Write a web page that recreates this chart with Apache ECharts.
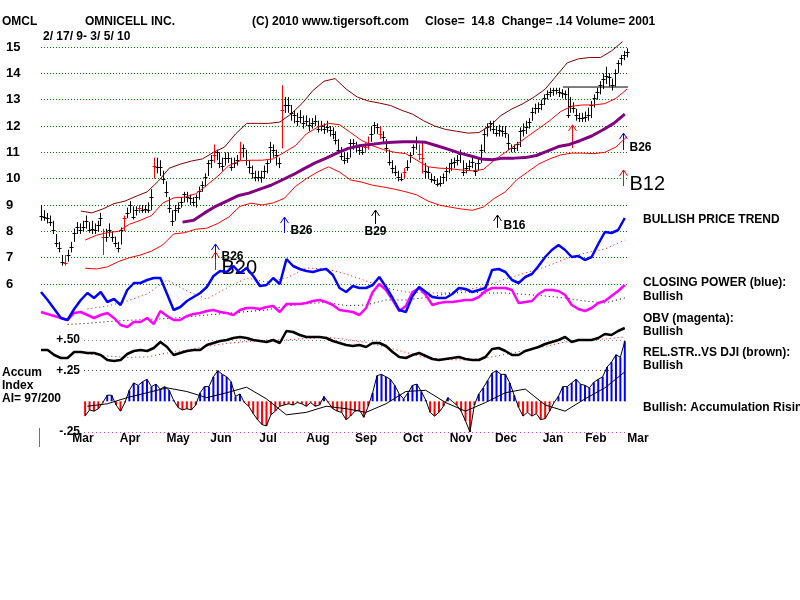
<!DOCTYPE html>
<html>
<head>
<meta charset="utf-8">
<script src="https://cdn.jsdelivr.net/npm/echarts@6/dist/echarts.min.js"></script>
<style>
html, body { margin: 0; background: #fff; }
#main { width: 800px; height: 600px; }
</style>
</head>
<body>
<div id="main"></div>
<script>
// x axis is in trading days, day 0 = 2/17/09, day 265 = 3/5/10
var lastDay = 265;

// daily price bars (sampled), spread evenly over the period
var closes = [8.6, 8.55, 8.5, 8.35, 8.05, 7.55, 7.37, 6.85, 6.8, 7.1,
  7.4, 7.95, 8.15, 8.05, 8.15, 8.4, 8.05, 8.1, 8.05, 8.25,
  8.5, 7.8, 7.8, 8.05, 7.8, 7.55, 7.37, 8.05, 8.5, 8.7,
  9.0, 8.55, 8.8, 8.9, 8.8, 8.85, 8.8, 9.3, 10.5, 10.45,
  10.45, 10.0, 9.5, 8.9, 8.4, 8.8, 8.9, 9.1, 9.4, 9.3,
  9.25, 9.1, 9.3, 9.55, 9.75, 10.05, 10.6, 10.7, 10.9, 11.0,
  10.6, 10.5, 10.8, 10.8, 10.45, 10.6, 10.7, 11.0, 11.15, 10.7,
  10.45, 10.2, 10.05, 10.05, 10.05, 10.3, 10.6, 11.2, 11.1, 10.9,
  10.6, 12.6, 12.8, 12.8, 12.5, 12.4, 12.2, 12.35, 12.1, 12.2,
  12.05, 12.1, 12.2, 11.9, 12.0, 11.9, 11.95, 11.85, 11.7, 11.45,
  11.1, 10.85, 10.7, 10.8, 11.35, 11.35, 11.2, 11.1, 11.0, 11.2,
  11.3, 11.7, 12.05, 11.95, 11.7, 11.6, 11.15, 10.65, 10.4, 10.25,
  10.05, 10.0, 10.25, 10.45, 10.9, 11.2, 11.4, 10.95, 10.8, 10.3,
  10.25, 10.0, 9.95, 9.8, 9.85, 10.05, 10.3, 10.4, 10.6, 10.65,
  10.7, 10.95, 10.25, 10.4, 10.5, 10.65, 10.3, 10.6, 11.1, 11.7,
  11.95, 12.1, 11.9, 11.75, 11.85, 11.8, 11.75, 11.35, 11.15, 11.15,
  11.3, 11.8, 11.85, 11.95, 12.15, 12.55, 12.7, 12.7, 12.85, 13.05,
  13.2, 13.3, 13.35, 13.35, 13.3, 13.25, 13.2, 12.4, 12.75, 12.7,
  12.4, 12.3, 12.3, 12.35, 12.4, 12.8, 13.05, 13.3, 13.55, 13.8,
  13.9, 13.85, 13.55, 14.0, 14.4, 14.6, 14.7, 14.8];
var highs = [9.0, 8.8, 8.7, 8.6, 8.4, 7.9, 7.6, 7.1, 7.1, 7.3,
  7.6, 8.1, 8.35, 8.3, 8.4, 8.6, 8.35, 8.4, 8.3, 8.4,
  8.7, 8.1, 8.1, 8.3, 8.0, 7.8, 7.6, 8.15, 8.6, 8.9,
  9.15, 8.95, 8.95, 9.0, 9.0, 9.0, 9.1, 9.6, 10.8, 10.8,
  10.7, 10.3, 9.9, 9.3, 8.8, 9.0, 9.1, 9.3, 9.5, 9.5,
  9.4, 9.3, 9.4, 9.7, 9.9, 10.2, 10.7, 10.9, 11.3, 11.1,
  11.0, 10.8, 11.0, 11.0, 10.8, 10.8, 10.9, 11.4, 11.3, 11.1,
  10.7, 10.5, 10.3, 10.3, 10.3, 10.5, 10.7, 11.4, 11.3, 11.1,
  10.8, 13.55, 13.1, 13.1, 12.8, 12.6, 12.5, 12.6, 12.4, 12.4,
  12.3, 12.3, 12.4, 12.2, 12.2, 12.1, 12.2, 12.0, 11.95, 11.8,
  11.5, 11.2, 11.0, 11.0, 11.5, 11.5, 11.4, 11.3, 11.2, 11.35,
  11.6, 12.0, 12.15, 12.1, 12.0, 11.8, 11.5, 11.1, 10.7, 10.5,
  10.3, 10.2, 10.4, 10.7, 11.0, 11.3, 11.6, 11.3, 11.4, 10.6,
  10.45, 10.2, 10.1, 10.0, 10.1, 10.2, 10.45, 10.6, 10.75, 10.8,
  10.9, 11.1, 10.7, 10.6, 10.7, 10.8, 10.6, 10.8, 11.3, 11.9,
  12.1, 12.2, 12.2, 12.0, 12.05, 12.0, 12.0, 11.7, 11.3, 11.3,
  11.4, 11.95, 12.1, 12.2, 12.3, 12.7, 12.85, 12.9, 13.0, 13.2,
  13.35, 13.45, 13.45, 13.45, 13.45, 13.4, 13.35, 13.45, 13.1, 12.9,
  12.65, 12.5, 12.5, 12.55, 12.7, 12.95, 13.2, 13.45, 13.7, 14.0,
  14.25, 14.0, 13.8, 14.15, 14.5, 14.7, 14.85, 14.95];
var lows = [8.4, 8.4, 8.3, 8.2, 7.9, 7.4, 7.2, 6.7, 6.7, 6.85,
  7.2, 7.6, 7.9, 7.9, 8.0, 8.1, 7.95, 7.9, 7.9, 8.0,
  8.2, 7.1, 7.6, 7.8, 7.6, 7.4, 7.2, 7.5, 8.0, 8.5,
  8.7, 8.45, 8.6, 8.7, 8.7, 8.7, 8.7, 8.8, 10.0, 10.2,
  10.1, 9.8, 9.3, 8.7, 8.2, 8.4, 8.7, 8.9, 9.1, 9.1,
  9.0, 8.95, 8.9, 9.2, 9.5, 9.7, 10.1, 10.4, 10.6, 10.7,
  10.4, 10.3, 10.5, 10.6, 10.3, 10.4, 10.5, 10.7, 10.8, 10.5,
  10.2, 10.0, 9.9, 9.9, 9.85, 10.0, 10.2, 10.6, 10.8, 10.5,
  10.4, 11.15, 12.5, 12.5, 12.2, 12.1, 12.0, 12.1, 11.9, 12.0,
  11.8, 11.9, 12.0, 11.75, 11.8, 11.7, 11.75, 11.6, 11.5, 11.3,
  10.95, 10.7, 10.55, 10.6, 10.8, 11.1, 11.0, 10.9, 10.9, 11.0,
  11.1, 11.4, 11.7, 11.7, 11.5, 11.4, 11.0, 10.5, 10.2, 10.1,
  9.9, 9.9, 10.0, 10.3, 10.6, 10.9, 11.1, 10.7, 10.2, 10.0,
  10.0, 9.85, 9.8, 9.7, 9.7, 9.8, 9.9, 10.2, 10.3, 10.4,
  10.5, 10.6, 10.1, 10.2, 10.3, 10.4, 10.1, 10.3, 10.6, 11.0,
  11.6, 11.8, 11.7, 11.6, 11.6, 11.6, 11.55, 11.1, 11.0, 11.0,
  11.05, 11.2, 11.6, 11.7, 11.9, 12.2, 12.45, 12.5, 12.6, 12.8,
  13.0, 13.1, 13.15, 13.2, 13.1, 13.05, 13.0, 12.3, 12.5, 12.5,
  12.2, 12.15, 12.15, 12.15, 12.2, 12.3, 12.7, 13.0, 13.2, 13.4,
  13.6, 13.5, 13.35, 13.5, 14.0, 14.3, 14.5, 14.6];
var redBars = [8, 21, 28, 33, 38, 58, 67, 81, 109, 110, 114, 122, 127, 128];

// bands and 50-day average, one value every bandStep days
var bandStep = 5;
var upperStart = 18;
var upperBand = [8.77, 8.7, 8.85, 9.05, 9.15, 9.33, 9.5, 9.9, 10.4, 10.55,
  10.67, 10.75, 11.0, 11.2, 11.7, 12.1, 12.1, 12.1, 12.15, 12.45,
  12.85, 13.35, 13.7, 13.8, 13.4, 13.1, 12.95, 12.87, 12.78, 12.6,
  12.45, 12.2, 12.0, 11.87, 11.8, 11.73, 11.75, 12.0, 12.4, 12.65,
  12.85, 13.1, 13.4, 13.9, 14.4, 14.55, 14.6, 14.6, 14.85, 15.2];
var midStart = 20;
var midBand = [7.67, 7.85, 7.95, 8.0, 8.27, 8.42, 8.6, 9.07, 9.27, 9.3,
  9.43, 9.75, 10.1, 10.5, 10.68, 10.7, 10.7, 10.75, 11.0, 11.25,
  11.7, 11.95, 12.1, 12.05, 11.75, 11.45, 11.25, 11.1, 11.0, 10.95,
  10.7, 10.45, 10.4, 10.38, 10.33, 10.3, 10.35, 10.7, 11.0, 11.3,
  11.6, 11.9, 12.2, 12.55, 12.75, 12.8, 12.8, 12.85, 13.05, 13.4];
var lowStart = 20;
var lowerBand = [6.6, 6.57, 6.65, 6.85, 7.0, 7.1, 7.25, 7.48, 7.9, 7.95,
  8.08, 8.12, 8.3, 8.55, 8.95, 9.07, 9.0, 9.08, 9.25, 9.7,
  10.0, 10.25, 10.45, 10.25, 9.95, 9.87, 9.75, 9.68, 9.6, 9.5,
  9.38, 9.15, 9.0, 8.92, 8.85, 8.8, 8.92, 9.25, 9.5, 9.95,
  10.25, 10.55, 10.75, 10.9, 10.97, 10.97, 10.95, 11.0, 11.2, 11.6];
var ma50Start = 64;
var ma50 = [8.35, 8.42, 8.7, 8.95, 9.15, 9.35, 9.45, 9.6, 9.75, 9.95,
  10.15, 10.38, 10.6, 10.78, 10.98, 11.15, 11.25, 11.3, 11.35, 11.38,
  11.4, 11.4, 11.38, 11.25, 11.12, 10.98, 10.87, 10.75, 10.72, 10.78,
  10.78, 10.8, 10.88, 11.05, 11.22, 11.3, 11.45, 11.62, 11.85, 12.1, 12.45];

// resistance line
var resistLevel = 13.48;
var resistFrom = 236;
var resistTo = 278;

// buy signals: day, arrow tip price, arrow tail price, label
var sigDays = [78.7, 78.7, 109.9, 151.1, 206.2, 240.2, 263.2, 263.2];
var sigTips = [7.21, 7.52, 8.54, 8.81, 8.62, 12.04, 11.73, 10.33];
var sigTails = [6.53, 6.95, 7.94, 8.28, 8.13, 11.16, 11.09, 9.72];
var sigNames = ['B20', 'B26', 'B26', 'B29', 'B16', '', 'B26', 'B12'];

// indicators, one value every 3 days from day 0 (levels 0-100 of the panel)
var indStep = 3;
var closingPower = [54, 50, 45.5, 41, 40, 45.5, 50, 53.5, 51, 54,
  49, 50.5, 47.5, 55, 58.5, 58.5, 60, 61, 61, 53,
  45, 46.5, 49.5, 51.5, 53.5, 56.5, 62, 64.5, 64, 67,
  63.5, 66, 62, 57, 57.5, 61, 58, 70.5, 67, 65.5,
  64.5, 64, 65, 65.5, 62.5, 56, 54, 57, 56, 56,
  57.5, 61.5, 56.5, 51, 45, 44, 52, 56.5, 54, 51.5,
  51, 51, 53, 56, 55.5, 54, 55, 56, 65, 65.5,
  64, 60, 58.5, 61.5, 63, 67, 71.5, 75, 77.5, 75,
  71.5, 72, 70, 71.5, 78, 84, 83.5, 85, 91];
var obv = [44, 43, 42, 41, 40, 43.5, 44, 42.5, 41, 42.5,
  43.5, 41, 37.5, 36.5, 39, 39, 41, 38, 44.5, 42,
  40, 40, 42, 43, 43.5, 44.5, 45, 44, 43.5, 42.5,
  45, 46, 46, 45.5, 46.5, 47, 44, 48, 48, 48,
  48.5, 49.5, 50, 49, 47.5, 45, 44.5, 44, 42.5, 46,
  54, 58, 55, 50, 44.5, 47, 54, 56, 52.5, 47.5,
  48.5, 49, 49, 49.5, 50, 50, 51.5, 54.5, 56, 56,
  56, 55, 48.5, 49, 49.5, 53, 55, 55, 54.5, 52.5,
  47.5, 45.5, 44.5, 46, 48.5, 49.5, 52, 54.5, 57.5];
var relStr = [25, 25, 22.5, 21, 21, 24, 24, 23.5, 23.5, 22.5,
  20, 19.5, 20, 23, 24.5, 25, 24.5, 26, 29, 26.5,
  22.5, 23.5, 24.5, 25, 25, 27.5, 28.5, 29.5, 30, 31,
  31.5, 31, 30, 29.5, 29, 30, 28.5, 34.5, 34, 32.5,
  31.5, 31.5, 31.5, 31, 29.5, 28.5, 27.5, 27, 27.5, 26.5,
  28.5, 28.5, 27, 24, 21.5, 21, 22.5, 23.5, 22, 20.5,
  20, 20.5, 21, 21.5, 20.5, 20, 20, 21.5, 25.5, 26,
  24.5, 22.5, 22.5, 24.5, 25.5, 26.5, 28, 29, 30, 31.5,
  29, 30, 30, 30, 31, 33, 32.5, 34.5, 36];

// moving averages of the indicators, one value every 9 days
var maStep = 9;
var cpMaStart = 21;
var cpMa = [45.5, 47, 49.5, 53, 60, 54.5, 50.5, 56, 61, 59, 61, 66, 65.5, 63,
  59.5, 56, 54, 53.5, 53.5, 55, 57, 60.5, 63.5, 66.5, 70.5, 73.5, 75.5, 80];
var obvMaStart = 12;
var obvMa = [37.8, 38.3, 39.2, 39.8, 40.3, 40.7, 41.5, 42.5, 43.3, 44.2, 45, 47, 48.2, 48.8,
  47.2, 47.5, 50, 50, 51.2, 53, 54, 53.5, 53.5, 52.8, 52, 51, 49.5, 48.5, 51];
var rsMaStart = 21;
var rsMa = [23, 22, 21.3, 21.5, 23.5, 25, 26.8, 28.3, 29.2, 30, 30, 30.8, 31.4, 30.3,
  28.8, 26.5, 23.8, 21.3, 20.2, 20, 21, 22.8, 24.8, 26.8, 29, 30, 30.5, 31.5];

// accumulation index, one value every 2 days from day 20
var accStart = 20;
var accStep = 2;
var accum = [-0.12, -0.07, -0.08, -0.06, -0.01, 0.05, 0.05, -0.03, -0.08, -0.01,
  0.09, 0.15, 0.13, 0.16, 0.18, 0.12, 0.14, 0.1, 0.12, 0.09,
  0.01, -0.05, -0.07, -0.06, -0.07, -0.03, 0.07, 0.12, 0.12, 0.2,
  0.25, 0.22, 0.2, 0.16, 0.04, 0.06, -0.01, -0.04, -0.1, -0.15,
  -0.19, -0.2, -0.11, -0.08, -0.04, -0.03, -0.02, -0.03, -0.01, -0.02,
  -0.04, -0.01, -0.04, -0.03, 0.04, -0.01, -0.06, -0.08, -0.09, -0.15,
  -0.12, -0.08, -0.07, -0.13, -0.04, 0.07, 0.21, 0.22, 0.2, 0.18,
  0.13, 0.06, 0.02, 0.07, 0.13, 0.14, 0.08, 0.01, -0.09, -0.12,
  -0.09, -0.04, 0.03, 0.0, -0.03, -0.08, -0.16, -0.25, -0.03, 0.06,
  0.11, 0.17, 0.23, 0.25, 0.22, 0.22, 0.15, 0.05, -0.05, -0.12,
  -0.09, -0.12, -0.1, -0.15, -0.14, -0.08, -0.01, 0.04, 0.12, 0.12,
  0.15, 0.18, 0.14, 0.13, 0.11, 0.155, 0.18, 0.2, 0.28, 0.32,
  0.38, 0.36, 0.49];
var accMaStart = 21;
var accMa = [-0.04, -0.02, 0.03, 0.07, 0.11, 0.08, 0.03, 0.07, 0.115, 0.02, -0.11, -0.09, -0.04, -0.06,
  -0.09, -0.02, 0.08, 0.09, -0.01, -0.08, -0.01, 0.07, 0.1, -0.03, -0.08, 0.02, 0.11, 0.24];

// month labels (day of the label)
var months = ['Mar', 'Apr', 'May', 'Jun', 'Jul', 'Aug', 'Sep', 'Oct', 'Nov', 'Dec', 'Jan', 'Feb', 'Mar'];
var monthDays = [19, 40.3, 62, 81.4, 102.7, 125.3, 147, 168.3, 190, 210.3, 231.6, 251, 270];

// styles for signals, kept apart from the data
var sigColors = ['#ff0000', '#0000ff', '#0000ff', '#000000', '#000000', '#ff0000', '#0000ff', '#ff0000'];
var sigBig = [true, false, false, false, false, false, false, true];
var sigBelow = [false, false, false, true, false, false, false, false];

var FONT = '"Liberation Sans", Arial, sans-serif';

function pts(start, step, vals) {
	return vals.map(function (v, i) { return [start + i * step, v]; });
}

window.onload = function () {
	var chart = echarts.init(document.getElementById('main'));
	var barStep = lastDay / (closes.length - 1);
	var barData = closes.map(function (c, i) {
		return [i * barStep, highs[i], lows[i], c, redBars.indexOf(i) >= 0 ? 1 : 0];
	});
	var sigData = sigDays.map(function (d, i) { return [d, sigTips[i], sigTails[i]]; });

	function renderBar(params, api) {
		var hi = api.coord([api.value(0), api.value(1)]);
		var lo = api.coord([api.value(0), api.value(2)]);
		var cl = api.coord([api.value(0), api.value(3)]);
		var x = Math.round(hi[0]) + 0.5;
		var col = api.value(4) ? '#ff0000' : '#000000';
		var cy = Math.round(cl[1]) + 0.5;
		return {
			type: 'group',
			children: [
				{type: 'line', shape: {x1: x, y1: hi[1], x2: x, y2: lo[1]}, style: {stroke: col, lineWidth: 1}},
				{type: 'line', shape: {x1: x - 2, y1: cy, x2: x + 2, y2: cy}, style: {stroke: col, lineWidth: 1}}
			]
		};
	}

	function renderSignal(params, api) {
		var i = params.dataIndex;
		var tip = api.coord([api.value(0), api.value(1)]);
		var tail = api.coord([api.value(0), api.value(2)]);
		var x = Math.round(tip[0]) + 0.5;
		var col = sigColors[i];
		var kids = [
			{type: 'line', shape: {x1: x, y1: tip[1], x2: x, y2: tail[1]}, style: {stroke: col, lineWidth: 1}},
			{type: 'polyline', shape: {points: [[x - 4, tip[1] + 6], [x, tip[1]], [x + 4, tip[1] + 6]]},
				style: {stroke: col, fill: null, lineWidth: 1}}
		];
		if (sigNames[i]) {
			kids.push({
				type: 'text',
				style: {
					text: sigNames[i],
					x: sigBelow[i] ? x : x + 6,
					y: sigBelow[i] ? tail[1] + 8 : tail[1] - 2,
					align: sigBelow[i] ? 'center' : 'left',
					verticalAlign: 'middle',
					fill: '#000',
					font: sigBig[i] ? '20px ' + FONT : 'bold 12px ' + FONT
				}
			});
		}
		return {type: 'group', children: kids};
	}

	function txt(x, y, s, font) {
		return {type: 'text', style: {text: s, x: x, y: y, verticalAlign: 'middle', fill: '#000', font: font || 'bold 12px ' + FONT}};
	}

	var dotted = [1, 2];
	var options = {
		animation: false,
		backgroundColor: '#ffffff',
		textStyle: {fontFamily: FONT},
		grid: [
			{left: 41, top: 47, width: 586, height: 237, outerBoundsMode: 'none'},
			{left: 41, top: 200, width: 586, height: 200, outerBoundsMode: 'none'},
			{left: 84, top: 340, width: 543, height: 92, outerBoundsMode: 'none'},
			{left: 41, top: 420, width: 619, height: 11, outerBoundsMode: 'none'}
		],
		xAxis: [
			{gridIndex: 0, type: 'value', min: 0, max: lastDay, show: false},
			{gridIndex: 1, type: 'value', min: 0, max: lastDay, show: false},
			{gridIndex: 2, type: 'value', min: 19.5, max: lastDay, show: false},
			{
				gridIndex: 3, type: 'value', min: 0, max: 280,
				axisLine: {show: false}, axisTick: {show: false}, splitLine: {show: false},
				axisLabel: {
					customValues: monthDays,
					margin: 2,
					color: '#000',
					fontWeight: 'bold',
					fontSize: 12,
					formatter: function (v) {
						var best = 0;
						for (var i = 0; i < monthDays.length; i++) {
							if (Math.abs(monthDays[i] - v) < Math.abs(monthDays[best] - v)) best = i;
						}
						return months[best];
					}
				}
			}
		],
		yAxis: [
			{
				gridIndex: 0, type: 'value', min: 6, max: 15, interval: 1,
				axisLine: {show: false}, axisTick: {show: false},
				axisLabel: {align: 'left', margin: 35, color: '#000', fontWeight: 'bold', fontSize: 13},
				splitLine: {lineStyle: {color: '#008000', type: dotted, width: 1}}
			},
			{gridIndex: 1, type: 'value', min: 0, max: 100, show: false},
			{
				gridIndex: 2, type: 'value', min: -0.25, max: 0.5, interval: 0.25,
				axisLine: {show: false}, axisTick: {show: false},
				axisLabel: {
					margin: 4, color: '#000', fontWeight: 'bold', fontSize: 12,
					formatter: function (v) {
						if (Math.abs(v) < 1e-6) return '';
						var s = Math.abs(v).toFixed(2).replace(/^0/, '');
						return (v > 0 ? '+' : '-') + s;
					}
				},
				splitLine: {lineStyle: {color: ['#cc44cc', 'rgba(0,0,0,0)', '#444444', '#888888'], type: [1, 3], width: 1}}
			},
			{gridIndex: 3, type: 'value', min: 0, max: 1, show: false}
		],
		series: [
			// price panel
			{type: 'line', xAxisIndex: 0, yAxisIndex: 0, data: pts(upperStart, bandStep, upperBand), symbol: 'none', clip: false,
				lineStyle: {color: '#800000', width: 1}},
			{type: 'line', xAxisIndex: 0, yAxisIndex: 0, data: pts(midStart, bandStep, midBand), symbol: 'none',
				lineStyle: {color: '#ff0000', width: 1}},
			{type: 'line', xAxisIndex: 0, yAxisIndex: 0, data: pts(lowStart, bandStep, lowerBand), symbol: 'none',
				lineStyle: {color: '#ff0000', width: 1}},
			{type: 'line', xAxisIndex: 0, yAxisIndex: 0, data: pts(ma50Start, bandStep, ma50), symbol: 'none',
				lineStyle: {color: '#800080', width: 3}},
			{type: 'custom', xAxisIndex: 0, yAxisIndex: 0, data: barData, renderItem: renderBar, encode: {x: 0, y: [1, 2]}},
			{type: 'line', xAxisIndex: 0, yAxisIndex: 0, data: [[resistFrom, resistLevel], [resistTo, resistLevel]], symbol: 'none', clip: false,
				lineStyle: {color: '#000', width: 1}},
			{type: 'custom', xAxisIndex: 0, yAxisIndex: 0, data: sigData, renderItem: renderSignal, encode: {x: 0, y: [1, 2]}},
			// closing power, obv, relative strength
			{type: 'line', xAxisIndex: 1, yAxisIndex: 1, data: pts(cpMaStart, maStep, cpMa), symbol: 'none',
				lineStyle: {color: '#ff0000', width: 1, type: [1, 3]}},
			{type: 'line', xAxisIndex: 1, yAxisIndex: 1, data: pts(obvMaStart, maStep, obvMa), symbol: 'none',
				lineStyle: {color: '#000', width: 1, type: [1, 3]}},
			{type: 'line', xAxisIndex: 1, yAxisIndex: 1, data: pts(rsMaStart, maStep, rsMa), symbol: 'none',
				lineStyle: {color: '#ff0000', width: 1, type: [1, 3]}},
			{type: 'line', xAxisIndex: 1, yAxisIndex: 1, data: pts(0, indStep, obv), symbol: 'none',
				lineStyle: {color: '#ff00ff', width: 2.5}},
			{type: 'line', xAxisIndex: 1, yAxisIndex: 1, data: pts(0, indStep, closingPower), symbol: 'none',
				lineStyle: {color: '#0000ff', width: 2.5}},
			{type: 'line', xAxisIndex: 1, yAxisIndex: 1, data: pts(0, indStep, relStr), symbol: 'none',
				lineStyle: {color: '#000000', width: 2.5}},
			// accumulation index
			{type: 'bar', xAxisIndex: 2, yAxisIndex: 2, data: pts(accStart, accStep, accum), barWidth: 2,
				itemStyle: {color: function (p) { return p.value[1] >= 0 ? '#0000ff' : '#ff0000'; }}},
			{type: 'line', xAxisIndex: 2, yAxisIndex: 2, data: pts(accStart, accStep, accum), symbol: 'none',
				lineStyle: {color: '#000', width: 1}},
			{type: 'line', xAxisIndex: 2, yAxisIndex: 2, data: pts(accMaStart, maStep, accMa), symbol: 'none',
				lineStyle: {color: '#000', width: 1}}
		],
		graphic: [
			txt(2, 22, 'OMCL'),
			txt(85, 22, 'OMNICELL INC.'),
			txt(252, 22, '(C) 2010 www.tigersoft.com'),
			txt(425, 22, 'Close=  14.8  Change= .14 Volume= 2001'),
			txt(43, 37, '2/ 17/ 9- 3/ 5/ 10'),
			txt(643, 220, 'BULLISH PRICE TREND'),
			txt(643, 283, 'CLOSING POWER (blue):'),
			txt(643, 297, 'Bullish'),
			txt(643, 319, 'OBV (magenta):'),
			txt(643, 332, 'Bullish'),
			txt(643, 353, 'REL.STR..VS DJI (brown):'),
			txt(643, 366, 'Bullish'),
			txt(643, 408, 'Bullish: Accumulation Rising'),
			txt(2, 373, 'Accum'),
			txt(2, 386, 'Index'),
			txt(2, 399, 'AI= 97/200'),
			{type: 'line', shape: {x1: 39.5, y1: 428, x2: 39.5, y2: 447}, style: {stroke: '#808000', lineWidth: 1}}
		]
	};
	chart.setOption(options);
};
</script>
</body>
</html>
